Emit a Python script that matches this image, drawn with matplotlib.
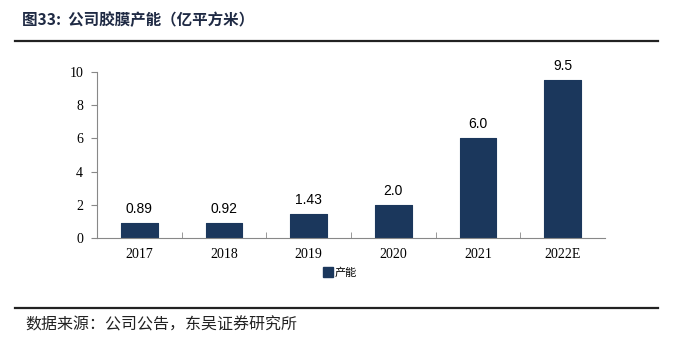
import matplotlib.pyplot as plt
from matplotlib.lines import Line2D

years = ["2017", "2018", "2019", "2020", "2021", "2022E"]
capacity = [0.89, 0.92, 1.43, 2.0, 6.0, 9.5]
value_labels = ["0.89", "0.92", "1.43", "2.0", "6.0", "9.5"]

title = "图33:  公司胶膜产能（亿平方米）"
source = "数据来源：公司公告，东吴证券研究所"
series_name = "产能"

bar_color = "#1b375c"
cjk = ["Noto Sans CJK SC", "DejaVu Sans"]
serif = ["Liberation Serif", "DejaVu Serif"]

fig = plt.figure(figsize=(6.73, 3.43), dpi=100)
ax = fig.add_axes([97 / 673, 1 - 238 / 343, 508 / 673, 166 / 343])

x = list(range(len(years)))
bars = ax.bar(x, capacity, width=0.43, color=bar_color, edgecolor=bar_color,
              linewidth=0.8, joinstyle="round")
ax.bar_label(bars, labels=value_labels, padding=5, fontsize=10,
             family=["Liberation Sans", "DejaVu Sans"])

ax.set_xlim(-0.5, len(years) - 0.5)
ax.set_ylim(0, 10)
ax.set_yticks([0, 2, 4, 6, 8, 10])
ax.set_xticks(x)
ax.set_xticklabels(years, family=serif, fontsize=10)
for lab in ax.get_yticklabels():
    lab.set_family(serif)
    lab.set_fontsize(10)

# small tick marks between categories
ax.set_xticks([i + 0.5 for i in x[:-1]], minor=True)
ax.tick_params(axis="x", which="major", length=0, pad=7)
ax.tick_params(axis="x", which="minor", length=4, direction="in", color="#888888")
ax.tick_params(axis="y", length=4, color="#888888", pad=6)

for side in ["top", "right"]:
    ax.spines[side].set_visible(False)
for side in ["left", "bottom"]:
    ax.spines[side].set_color("#888888")
    ax.spines[side].set_linewidth(0.8)

handle = Line2D([], [], marker="s", linestyle="none", markersize=7,
                color=bar_color)
fig.legend([handle], [series_name], loc="center", bbox_to_anchor=(340 / 673, 1 - 273 / 343),
           frameon=False, prop={"family": cjk, "size": 8}, handletextpad=0.1,
           borderpad=0, handlelength=1)

fig.text(22 / 673, 1 - 20 / 343, title, family=cjk, fontsize=11.2,
         fontweight="bold", color="#1f2a44", va="center", ha="left")
fig.add_artist(Line2D([15 / 673, 658 / 673], [1 - 41 / 343, 1 - 41 / 343],
                      color="#222222", linewidth=1.6))
fig.add_artist(Line2D([15 / 673, 658 / 673], [1 - 308 / 343, 1 - 308 / 343],
                      color="#222222", linewidth=1.6))
fig.text(25 / 673, 1 - 325 / 343, source, family=cjk, fontsize=11.5,
         color="#222222", va="center", ha="left")

fig.savefig("out.png", dpi=100)
